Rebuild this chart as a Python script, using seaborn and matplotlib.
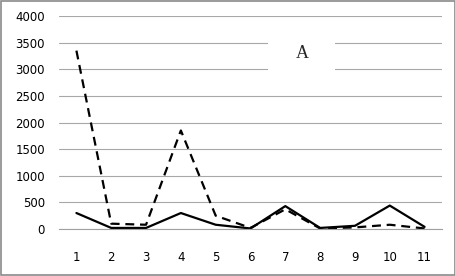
import matplotlib
matplotlib.use("Agg")
import matplotlib.pyplot as plt
import seaborn as sns
import pandas as pd
from matplotlib.patches import Rectangle

categories = [1, 2, 3, 4, 5, 6, 7, 8, 9, 10, 11]
series_dashed = [3350, 100, 80, 1850, 250, 20, 370, 10, 30, 80, 10]
series_solid = [300, 20, 20, 300, 80, 10, 430, 20, 60, 440, 40]
y_ticks = [0, 500, 1000, 1500, 2000, 2500, 3000, 3500, 4000]
label_text = "A"

sns.set_style("white")
plt.rcParams['font.family'] = ['DejaVu Sans']

df = pd.DataFrame({
    "x": categories * 2,
    "y": series_dashed + series_solid,
    "series": ["dashed"] * len(categories) + ["solid"] * len(categories),
})

fig = plt.figure(figsize=(4.56, 2.76), dpi=100)
ax = fig.add_axes([59/456, 1-229/276, (442-59)/456, (229-16)/276])

sns.lineplot(data=df[df.series == "solid"], x="x", y="y", ax=ax, color="black",
             linewidth=1.6, legend=False)
sns.lineplot(data=df[df.series == "dashed"], x="x", y="y", ax=ax, color="black",
             linewidth=1.6, legend=False, dashes=False)
ax.lines[1].set_dashes([4, 2.6])

ax.set_xlim(0.5, 11.5)
ax.set_ylim(0, 4000)
ax.set_yticks(y_ticks)
ax.set_yticklabels([str(v) for v in y_ticks])
ax.set_xticks(categories)
ax.set_xticklabels([str(c) for c in categories])
ax.set_xticks([c + 0.5 for c in [0] + categories], minor=True)
ax.tick_params(axis="x", which="major", length=0, pad=16, labelsize=8.5, colors="black")
ax.tick_params(axis="x", which="minor", length=4, width=0.8, color="#a0a0a0", direction="out")
ax.tick_params(axis="y", which="major", length=0, pad=10, labelsize=8.5, colors="black")
ax.set_xlabel("")
ax.set_ylabel("")
ax.grid(axis="y", color="#a8a8a8", linewidth=0.8)
ax.set_axisbelow(True)
for s in ["top", "right"]:
    ax.spines[s].set_visible(False)
ax.spines["left"].set_visible(False)
ax.spines["bottom"].set_color("#a0a0a0")
ax.spines["bottom"].set_linewidth(0.8)

# white label box
fig.patches.append(Rectangle((268/456, 1-86/276), 67/456, 64/276, transform=fig.transFigure,
                             facecolor="white", edgecolor="none", zorder=5))
fig.text(302/456, 1-53/276, label_text, family="Liberation Serif", fontsize=13,
         ha="center", va="center", zorder=6)

fig.patches.append(Rectangle((0.002, 0.003), 0.995, 0.993, transform=fig.transFigure,
                             fill=False, edgecolor="#8a8a8a", linewidth=1.2))

fig.savefig("out.png", dpi=100)
